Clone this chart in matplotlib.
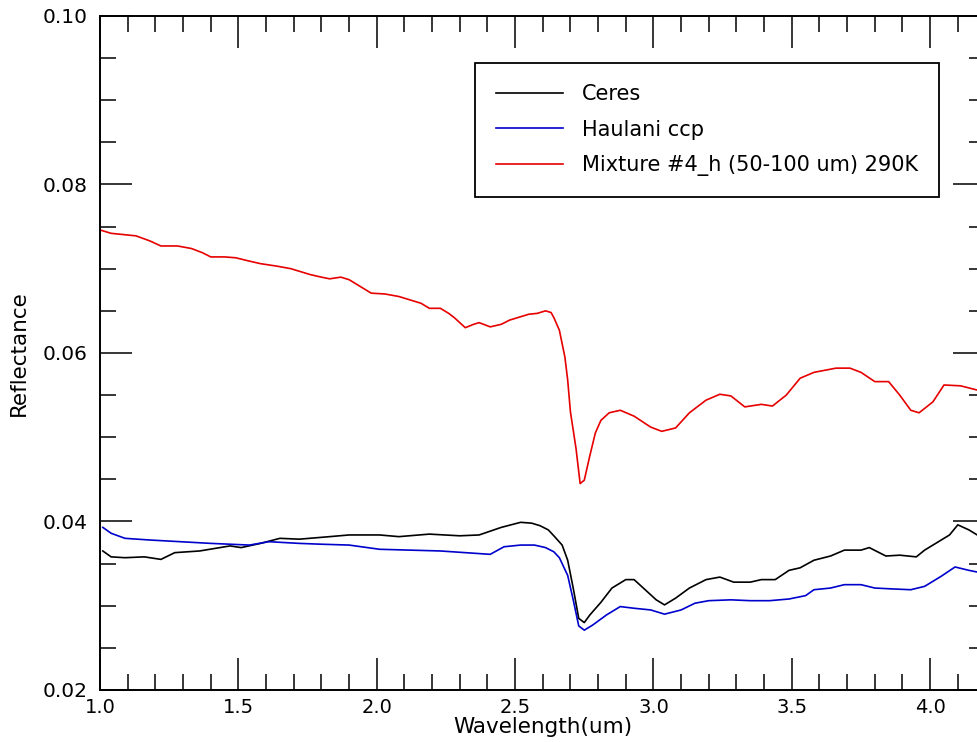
import matplotlib
matplotlib.use("Agg")
import matplotlib.pyplot as plt
from matplotlib.ticker import MultipleLocator, FormatStrFormatter

# ---- data ----
mix_wl = [1.00, 1.04, 1.07, 1.13, 1.18, 1.22, 1.28, 1.33, 1.37, 1.40, 1.45, 1.49, 1.54,
          1.58, 1.64, 1.69, 1.73, 1.76, 1.80, 1.83, 1.87, 1.90, 1.92, 1.95, 1.98, 2.03,
          2.08, 2.12, 2.16, 2.19, 2.23, 2.26, 2.28, 2.30, 2.32, 2.35, 2.37, 2.41, 2.45,
          2.48, 2.52, 2.55, 2.58, 2.61, 2.63, 2.64, 2.66, 2.68, 2.69, 2.70, 2.72, 2.735,
          2.75, 2.77, 2.79, 2.81, 2.84, 2.88, 2.93, 2.99, 3.03, 3.08, 3.13, 3.19, 3.24,
          3.28, 3.33, 3.39, 3.43, 3.48, 3.53, 3.58, 3.66, 3.71, 3.75, 3.80, 3.85, 3.89,
          3.93, 3.96, 4.01, 4.05, 4.11, 4.17, 4.20]
mix_ref = [0.0746, 0.0742, 0.0741, 0.0739, 0.0733, 0.0727, 0.0727, 0.0724, 0.0719, 0.0714,
           0.0714, 0.0713, 0.0709, 0.0706, 0.0703, 0.0700, 0.0696, 0.0693, 0.0690, 0.0688,
           0.0690, 0.0687, 0.0683, 0.0677, 0.0671, 0.0670, 0.0667, 0.0663, 0.0659, 0.0653,
           0.0653, 0.0647, 0.0642, 0.0636, 0.0630, 0.0634, 0.0636, 0.0631, 0.0634, 0.0639,
           0.0643, 0.0646, 0.0647, 0.0650, 0.0648, 0.0642, 0.0627, 0.0595, 0.0568, 0.0530,
           0.0487, 0.0445, 0.0449, 0.0478, 0.0505, 0.0520, 0.0529, 0.0532, 0.0525, 0.0512,
           0.0507, 0.0511, 0.0529, 0.0544, 0.0551, 0.0549, 0.0536, 0.0539, 0.0537, 0.0550,
           0.0570, 0.0577, 0.0582, 0.0582, 0.0577, 0.0566, 0.0566, 0.0550, 0.0532, 0.0529,
           0.0542, 0.0562, 0.0561, 0.0556, 0.0554]

ceres_wl = [1.01, 1.04, 1.09, 1.16, 1.22, 1.27, 1.36, 1.47, 1.51, 1.58, 1.65, 1.72, 1.83,
            1.90, 2.01, 2.08, 2.19, 2.30, 2.37, 2.45, 2.52, 2.56, 2.59, 2.62, 2.64, 2.67,
            2.69, 2.71, 2.73, 2.75, 2.77, 2.81, 2.85, 2.90, 2.93, 2.97, 3.01, 3.04, 3.08,
            3.13, 3.19, 3.24, 3.29, 3.35, 3.39, 3.44, 3.49, 3.53, 3.58, 3.64, 3.69, 3.75,
            3.78, 3.84, 3.89, 3.95, 3.98, 4.04, 4.07, 4.10, 4.14, 4.17, 4.20]
ceres_ref = [0.0365, 0.0358, 0.0357, 0.0358, 0.0355, 0.0363, 0.0365, 0.0371, 0.0369, 0.0374,
             0.0380, 0.0379, 0.0382, 0.0384, 0.0384, 0.0382, 0.0385, 0.0383, 0.0384, 0.0393,
             0.0399, 0.0398, 0.0395, 0.0390, 0.0383, 0.0372, 0.0354, 0.0321, 0.0285, 0.0280,
             0.0289, 0.0304, 0.0321, 0.0331, 0.0331, 0.0319, 0.0307, 0.0301, 0.0309, 0.0321,
             0.0331, 0.0334, 0.0328, 0.0328, 0.0331, 0.0331, 0.0342, 0.0345, 0.0354, 0.0359,
             0.0366, 0.0366, 0.0369, 0.0359, 0.0360, 0.0358, 0.0366, 0.0378, 0.0384, 0.0396,
             0.0390, 0.0384, 0.0380]

haulani_wl = [1.01, 1.04, 1.09, 1.18, 1.29, 1.40, 1.47, 1.54, 1.61, 1.72, 1.80, 1.90, 2.01,
              2.12, 2.23, 2.32, 2.41, 2.46, 2.52, 2.57, 2.61, 2.64, 2.66, 2.69, 2.71, 2.73,
              2.75, 2.78, 2.83, 2.88, 2.93, 2.99, 3.04, 3.10, 3.15, 3.20, 3.28, 3.35, 3.42,
              3.49, 3.55, 3.58, 3.64, 3.69, 3.75, 3.80, 3.86, 3.93, 3.98, 4.04, 4.09, 4.14,
              4.17, 4.20]
haulani_ref = [0.0393, 0.0386, 0.0380, 0.0378, 0.0376, 0.0374, 0.0373, 0.0372, 0.0376, 0.0374,
               0.0373, 0.0372, 0.0367, 0.0366, 0.0365, 0.0363, 0.0361, 0.0370, 0.0372, 0.0372,
               0.0369, 0.0364, 0.0357, 0.0336, 0.0307, 0.0276, 0.0271, 0.0277, 0.0289, 0.0299,
               0.0297, 0.0295, 0.0290, 0.0295, 0.0303, 0.0306, 0.0307, 0.0306, 0.0306, 0.0308,
               0.0312, 0.0319, 0.0321, 0.0325, 0.0325, 0.0321, 0.0320, 0.0319, 0.0323, 0.0335,
               0.0346, 0.0342, 0.0340, 0.0338]

labels = ["Ceres", "Haulani ccp", "Mixture #4_h (50-100 um) 290K"]
colors = ["#000000", "#0000cc", "#e60000"]

# ---- figure ----
plt.rcParams['font.family'] = ['DejaVu Sans']
fig = plt.figure(figsize=(9.77, 7.42), dpi=100)
ax = fig.add_axes([0.1024, 0.0701, 0.9063, 0.9084])

ax.plot(ceres_wl, ceres_ref, color=colors[0], lw=1.2, label=labels[0])
ax.plot(haulani_wl, haulani_ref, color=colors[1], lw=1.2, label=labels[1])
ax.plot(mix_wl, mix_ref, color=colors[2], lw=1.2, label=labels[2])

ax.set_xlim(1.0, 4.2)
ax.set_ylim(0.02, 0.10)
ax.xaxis.set_major_locator(MultipleLocator(0.5))
ax.xaxis.set_minor_locator(MultipleLocator(0.1))
ax.yaxis.set_major_locator(MultipleLocator(0.02))
ax.yaxis.set_minor_locator(MultipleLocator(0.005))
ax.xaxis.set_major_formatter(FormatStrFormatter('%.1f'))
ax.yaxis.set_major_formatter(FormatStrFormatter('%.2f'))

ax.tick_params(which='both', direction='in', top=True, right=True, width=1.1, color='black')
ax.tick_params(which='major', length=23)
ax.tick_params(which='minor', length=11.5)
ax.tick_params(axis='x', which='major', labelsize=14, pad=6)
ax.tick_params(axis='y', which='major', labelsize=14.5, pad=9)
for s in ax.spines.values():
    s.set_linewidth(1.4)

ax.set_xlabel("Wavelength(um)", fontsize=15.5, labelpad=0)
ax.set_ylabel("Reflectance", fontsize=15.5, labelpad=10)

leg = ax.legend(loc='upper left', bbox_to_anchor=(0.4235, 0.930), borderaxespad=0,
                fontsize=15, frameon=True, fancybox=False, framealpha=1,
                handlelength=3.2, handletextpad=0.95, labelspacing=0.75, borderpad=1.0)
leg.get_frame().set_edgecolor('black')
leg.get_frame().set_linewidth(1.3)

fig.savefig("out.png", dpi=100)
